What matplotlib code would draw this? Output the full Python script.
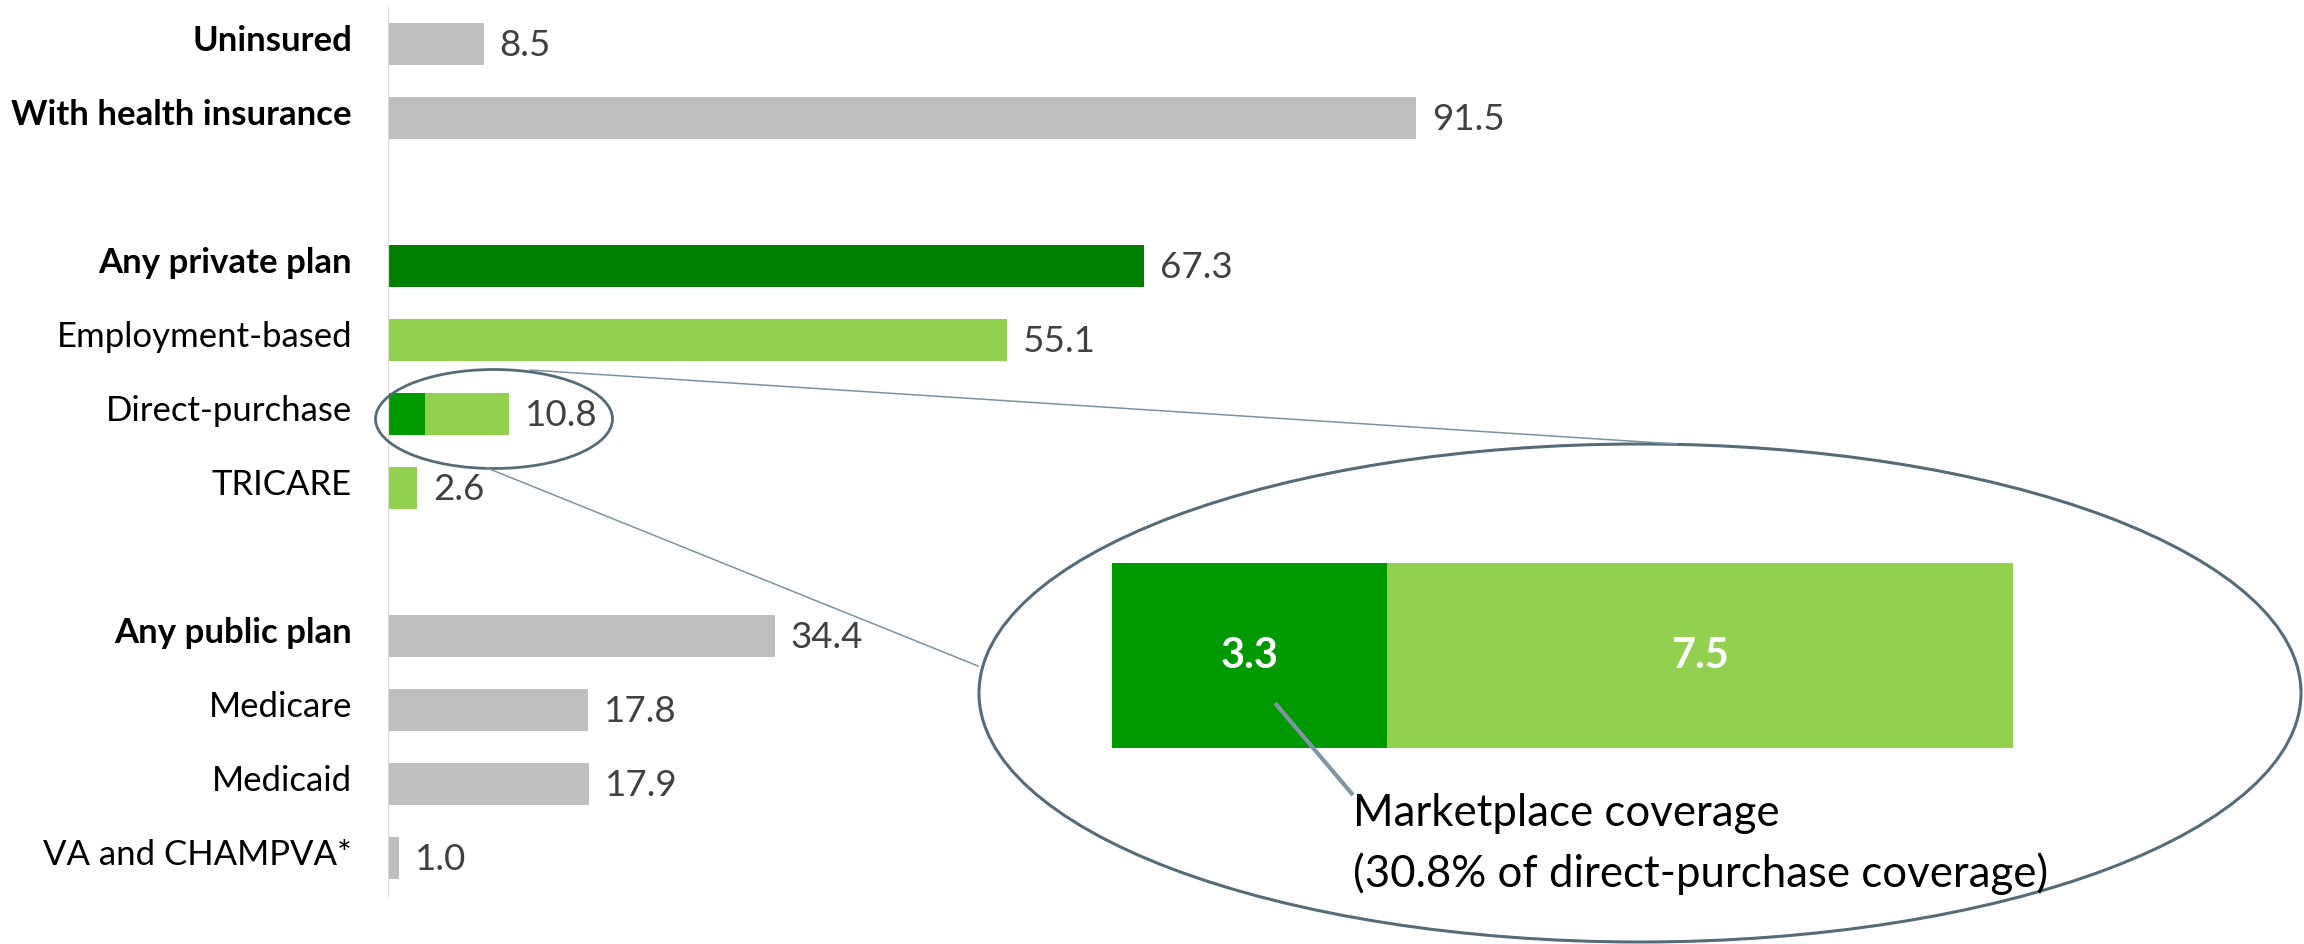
import matplotlib
matplotlib.use("Agg")
import matplotlib.pyplot as plt
from matplotlib.patches import Ellipse
import matplotlib.transforms as mtransforms

plt.rcParams['font.family'] = ['Lato', 'DejaVu Sans']

# ---------------- data ----------------
group_overall = ["Uninsured", "With health insurance"]
group_private = ["Any private plan", "Employment-based", "Direct-purchase", "TRICARE"]
group_public = ["Any public plan", "Medicare", "Medicaid", "VA and CHAMPVA*"]

values_overall = [8.5, 91.5]
values_private = [67.3, 55.1, 10.8, 2.6]
values_public = [34.4, 17.8, 17.9, 1.0]

bold_labels = ["Uninsured", "With health insurance", "Any private plan", "Any public plan"]

marketplace = 3.3
direct_other = 7.5
annotation_lines = ["Marketplace coverage", "(30.8% of direct-purchase coverage)"]

# ---------------- style ----------------
GRAY = "#BFBFBF"
DARK_GREEN = "#008000"
MID_GREEN = "#009900"
LIGHT_GREEN = "#92D050"
VALUE_COLOR = "#404040"
ELLIPSE_COLOR = "#566B78"
CONNECT_COLOR = "#7A93A3"

color_overall = [GRAY, GRAY]
color_private = [DARK_GREEN, LIGHT_GREEN, LIGHT_GREEN, LIGHT_GREEN]
color_public = [GRAY, GRAY, GRAY, GRAY]

W, H = 2304, 944
DPI = 100
fig = plt.figure(figsize=(W / DPI, H / DPI), dpi=DPI)

# rows with a blank slot between groups
cats, vals, cols, rows = [], [], [], []
r = 0
for g_c, g_v, g_col in [(group_overall, values_overall, color_overall),
                        (group_private, values_private, color_private),
                        (group_public, values_public, color_public)]:
    for c, v, col in zip(g_c, g_v, g_col):
        cats.append(c); vals.append(v); cols.append(col); rows.append(r)
        r += 1
    r += 1

row_px0, row_step = 44.0, 74.0
x0_px, px_per_unit = 388.0, 11.24
xmax = 100
ax = fig.add_axes([x0_px / W, 0, xmax * px_per_unit / W, 1])
ax.set_xlim(0, xmax)
ax.set_ylim((H - row_px0) / row_step, -row_px0 / row_step)
ax.axis("off")

bar_h = 0.567
for c, v, col, y in zip(cats, vals, cols, rows):
    if c == "Direct-purchase":
        ax.barh(y, marketplace, height=bar_h, color=MID_GREEN, linewidth=0)
        ax.barh(y, direct_other, left=marketplace, height=bar_h, color=LIGHT_GREEN, linewidth=0)
    else:
        ax.barh(y, v, height=bar_h, color=col, linewidth=0)
    # value label
    tr = mtransforms.offset_copy(ax.transData, fig=fig, x=16 * 72 / DPI, y=-1 * 72 / DPI, units="points")
    ax.text(v, y, f"{v:.1f}", transform=tr, ha="left", va="center",
            fontsize=26.5, color=VALUE_COLOR)
    # category label
    trl = mtransforms.offset_copy(ax.transData, fig=fig, x=-36 * 72 / DPI, y=3 * 72 / DPI, units="points")
    ax.text(0, y, c, transform=trl, ha="right", va="center", fontsize=25,
            color="black", fontweight="bold" if c in bold_labels else "normal")

# vertical axis line
ax.axvline(0, ymin=(H - 896) / H, ymax=(H - 8) / H, color="#D9D9D9", linewidth=1.6)

# ---------------- zoomed inset bar ----------------
inset_l, inset_r, inset_t, inset_b = 1112, 2013, 563, 748
iax = fig.add_axes([inset_l / W, (H - inset_b) / H, (inset_r - inset_l) / W, (inset_b - inset_t) / H])
iax.set_xlim(0, marketplace + direct_other)
iax.set_ylim(-0.5, 0.5)
iax.axis("off")
iax.barh(0, marketplace, height=1.0, color=MID_GREEN, linewidth=0)
iax.barh(0, direct_other, left=marketplace, height=1.0, color=LIGHT_GREEN, linewidth=0)
iax.text(marketplace / 2, 0.0, f"{marketplace:.1f}", ha="center", va="center",
         fontsize=30, fontweight="bold", color="white")
iax.text(marketplace + direct_other / 2, 0.0, f"{direct_other:.1f}", ha="center", va="center",
         fontsize=30, fontweight="bold", color="white")

# ---------------- overlay: ellipses, connectors, annotation ----------------
ov = fig.add_axes([0, 0, 1, 1], zorder=5)
ov.set_xlim(0, W)
ov.set_ylim(H, 0)
ov.axis("off")
ov.patch.set_alpha(0)

ov.add_patch(Ellipse((494, 419), 237, 99, fill=False, edgecolor=ELLIPSE_COLOR, linewidth=2.0))
ov.add_patch(Ellipse((1640, 693), 1322, 498, fill=False, edgecolor=ELLIPSE_COLOR, linewidth=2.2,
                     clip_on=False))
ov.plot([530, 1676], [370, 444], color=CONNECT_COLOR, linewidth=1.1)
ov.plot([487, 978], [468, 666], color=CONNECT_COLOR, linewidth=1.1)
ov.plot([1275, 1353], [703, 795], color="#7F95A3", linewidth=3.0, solid_capstyle="butt")

ov.text(1353, 826, annotation_lines[0], ha="left", va="baseline", fontsize=31.5, color="black")
ov.text(1353, 887, annotation_lines[1], ha="left", va="baseline", fontsize=31.5, color="black")

fig.savefig("out.png", dpi=DPI, facecolor="white")
